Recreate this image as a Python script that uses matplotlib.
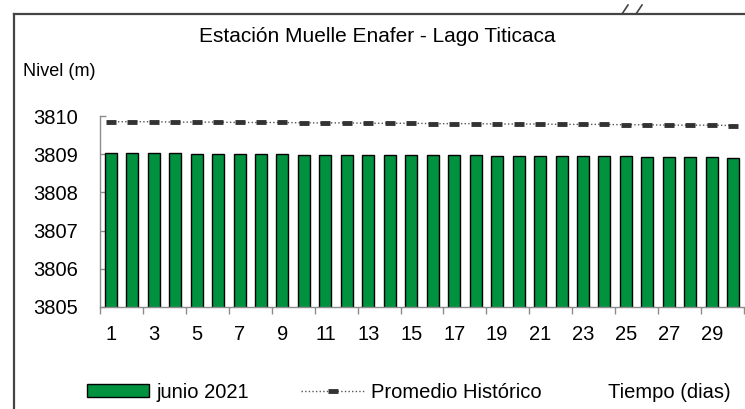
import matplotlib
matplotlib.use("Agg")
import matplotlib.pyplot as plt
from matplotlib.lines import Line2D
from matplotlib.patches import Patch
import numpy as np

plt.rcParams['font.family'] = ['Liberation Sans', 'DejaVu Sans']

# Data
dias = list(range(1, 31))
nivel_junio = [3809.03, 3809.03, 3809.02, 3809.02, 3809.01, 3809.01, 3809.00, 3809.00,
               3809.00, 3808.99, 3808.99, 3808.99, 3808.98, 3808.98, 3808.98, 3808.97,
               3808.97, 3808.97, 3808.96, 3808.96, 3808.95, 3808.95, 3808.95, 3808.94,
               3808.94, 3808.93, 3808.93, 3808.92, 3808.92, 3808.91]
promedio = [3809.85, 3809.85, 3809.85, 3809.84, 3809.84, 3809.84, 3809.83, 3809.83,
            3809.83, 3809.82, 3809.82, 3809.82, 3809.81, 3809.81, 3809.81, 3809.80,
            3809.80, 3809.80, 3809.79, 3809.79, 3809.79, 3809.78, 3809.78, 3809.78,
            3809.77, 3809.77, 3809.76, 3809.76, 3809.76, 3809.75]
y_ticks = [3805, 3806, 3807, 3808, 3809, 3810]

W, H = 745, 409
fig = plt.figure(figsize=(W / 100, H / 100), dpi=100)

# Axes placement in pixels
left, right, top, bottom = 100, 744, 116, 307
ax = fig.add_axes([left / W, 1 - bottom / H, (right - left) / W, (bottom - top) / H])

green = '#00923f'
axis_gray = '#8c8c8c'

ax.bar(dias, nivel_junio, width=0.56, color=green, edgecolor='black', linewidth=1,
       zorder=2)
ax.plot(dias, promedio, color='#555555', linestyle=(0, (1, 1.6)), linewidth=1,
        marker='_', markersize=7, markeredgewidth=3.5, markeredgecolor='#333333',
        zorder=3)

ax.set_xlim(0.5, 30.5)
ax.set_ylim(3805, 3810)

# y axis
ax.set_yticks(y_ticks)
ax.tick_params(axis='y', direction='in', length=4, width=1, color=axis_gray,
               labelsize=14.5, pad=16)

# x axis: tick marks between pairs of days, labels on odd days
ax.set_xticks(np.arange(0.5, 31, 2))
ax.set_xticklabels([])
ax.set_xticks(dias[::2], minor=True)
ax.set_xticklabels([str(d) for d in dias[::2]], minor=True)
ax.tick_params(axis='x', which='major', direction='out', length=5, width=1,
               color=axis_gray)
ax.tick_params(axis='x', which='minor', length=0, labelsize=14.5, pad=13)

for s in ['top', 'right']:
    ax.spines[s].set_visible(False)
for s in ['left', 'bottom']:
    ax.spines[s].set_color(axis_gray)
    ax.spines[s].set_linewidth(1)

# Texts
fig.text(377 / W, 1 - 37 / H, 'Estación Muelle Enafer - Lago Titicaca',
         ha='center', va='center', fontsize=15)
fig.text(23 / W, 1 - 72 / H, 'Nivel (m)', ha='left', va='center', fontsize=13)
fig.text(608 / W, 1 - 392 / H, 'Tiempo (dias)', ha='left', va='center', fontsize=14.5)

# Legend
handles = [
    Patch(facecolor=green, edgecolor='black', linewidth=1),
    Line2D([], [], color='#555555', linestyle=(0, (1, 1.6)), linewidth=1,
           marker='_', markersize=7, markeredgewidth=3.5, markeredgecolor='#333333'),
]
fig.legend(handles, ['junio 2021', 'Promedio Histórico'], loc='center left',
           bbox_to_anchor=(87 / W, 1 - 392 / H), ncol=2, frameon=False,
           fontsize=14.5, handlelength=3.1, handleheight=0.6, handletextpad=0.35,
           columnspacing=2.6, borderpad=0, borderaxespad=0, numpoints=1)

# Outer frame (left and top edges) with the break marks
frame_col = '#444444'
fig.add_artist(Line2D([14 / W, 14 / W], [0, 1 - 14 / H], transform=fig.transFigure,
                      color=frame_col, linewidth=1.6))
fig.add_artist(Line2D([14 / W, 1], [1 - 14 / H, 1 - 14 / H], transform=fig.transFigure,
                      color=frame_col, linewidth=1.6))
for x0 in [622, 636]:
    fig.add_artist(Line2D([x0 / W, (x0 + 6) / W], [1 - 14 / H, 1 - 5 / H],
                          transform=fig.transFigure, color=frame_col, linewidth=1.2))

fig.savefig('out.png', dpi=100)
